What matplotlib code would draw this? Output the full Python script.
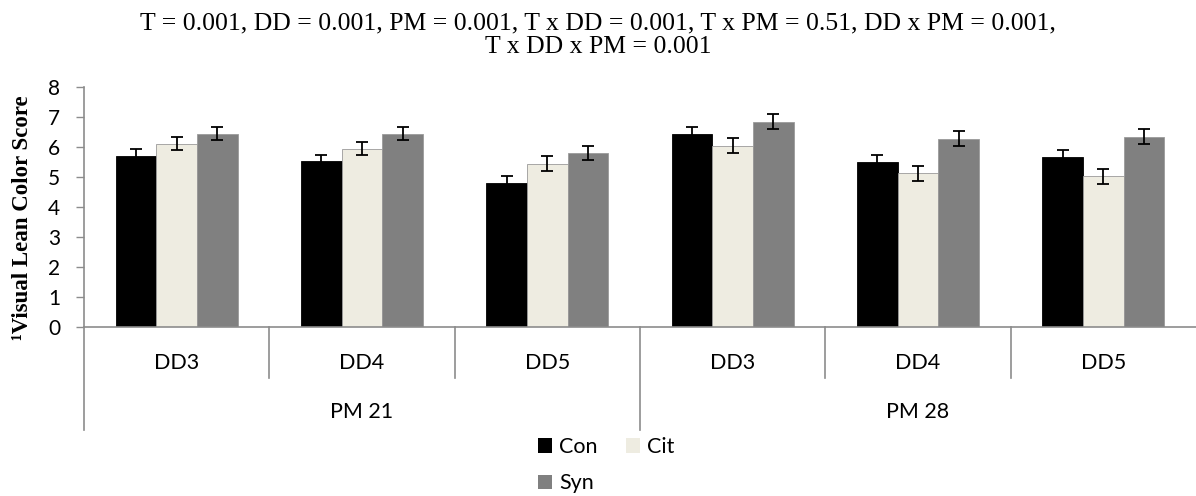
import matplotlib
matplotlib.use("Agg")
import matplotlib.pyplot as plt
import matplotlib.transforms as mtransforms
from matplotlib.patches import Patch
import numpy as np

# Data
dd_labels = ["DD3", "DD4", "DD5", "DD3", "DD4", "DD5"]
pm_labels = ["PM 21", "PM 28"]
series_names = ["Con", "Cit", "Syn"]
con_vals = [5.71, 5.53, 4.81, 6.44, 5.49, 5.67]
cit_vals = [6.11, 5.95, 5.45, 6.05, 5.12, 5.02]
syn_vals = [6.44, 6.45, 5.80, 6.85, 6.28, 6.35]
con_err = [0.21, 0.20, 0.23, 0.23, 0.23, 0.23]
cit_err = [0.22, 0.22, 0.24, 0.24, 0.24, 0.24]
syn_err = [0.22, 0.22, 0.24, 0.24, 0.24, 0.24]
y_ticks = [0, 1, 2, 3, 4, 5, 6, 7, 8]

colors = ["#000000", "#EEECE1", "#808080"]
axis_gray = "#8C8C8C"
tick_font = "Lato"
tick_size = 15.5

fig = plt.figure(figsize=(11.96, 4.96), dpi=100)
ax = fig.add_axes([84 / 1196, 1 - 327 / 496, 1 - 84 / 1196, (327 - 87) / 496])

x = np.arange(len(dd_labels))
w = 0.22
for i, (vals, errs) in enumerate(zip([con_vals, cit_vals, syn_vals],
                                     [con_err, cit_err, syn_err])):
    ax.bar(x + (i - 1) * w, vals, width=w, color=colors[i],
           edgecolor="#9a9a9a" if i else "#000000", linewidth=0.6,
           yerr=errs, capsize=4,
           error_kw=dict(ecolor="black", elinewidth=1.3, capthick=1.3),
           label=series_names[i], zorder=2)

ax.set_xlim(-0.5, len(dd_labels) - 0.5)
ax.set_ylim(0, 8)
ax.set_yticks(y_ticks)
ax.set_yticklabels([str(t) for t in y_ticks], fontsize=15, family=tick_font)
ax.tick_params(axis="y", length=6, width=1, color=axis_gray, pad=11)
ax.set_xticks([])
for s in ["top", "right"]:
    ax.spines[s].set_visible(False)
for s in ["left", "bottom"]:
    ax.spines[s].set_color(axis_gray)
    ax.spines[s].set_linewidth(1.2)

# Two-level category axis
trans = mtransforms.blended_transform_factory(ax.transData, ax.transAxes)
px = 1 / 240.0  # axes height in pixels
for i, lab in enumerate(dd_labels):
    ax.text(i, -(363 - 327) * px, lab, transform=trans, ha="center",
            va="center", fontsize=tick_size, family=tick_font)
for xs in [0.5, 1.5, 3.5, 4.5]:
    ax.plot([xs, xs], [0, -(378 - 327) * px], transform=trans,
            color=axis_gray, lw=1.2, clip_on=False)
for xs in [-0.5, 2.5]:
    ax.plot([xs, xs], [0, -(430 - 327) * px], transform=trans,
            color=axis_gray, lw=1.2, clip_on=False)
for j, lab in enumerate(pm_labels):
    ax.text(3 * j + 1, -(412 - 327) * px, lab, transform=trans,
            ha="center", va="center", fontsize=tick_size, family=tick_font)

# Y label and title
fig.text(23 / 1196, 1 - 218 / 496, "¹Visual Lean Color Score",
         rotation=90, ha="center", va="center", fontsize=16.5,
         fontweight="bold", family="Liberation Serif")
fig.text(0.5, 1 - 29 / 496,
         "T = 0.001, DD = 0.001, PM = 0.001, T x DD = 0.001, T x PM = 0.51, DD x PM = 0.001,",
         ha="center", va="baseline", fontsize=18.5, family="Liberation Serif")
fig.text(0.5, 1 - 53 / 496, "T x DD x PM = 0.001",
         ha="center", va="baseline", fontsize=18.5, family="Liberation Serif")

# Legend: Con and Cit on the first row, Syn below
handles = [Patch(facecolor=colors[0]), Patch(facecolor=colors[2]),
           Patch(facecolor=colors[1])]
labels = [series_names[0], series_names[2], series_names[1]]
fig.legend(handles, labels, ncol=2, loc="upper left",
           bbox_to_anchor=(536 / 1196, 1 - 435 / 496), frameon=False,
           prop={"family": tick_font, "size": tick_size}, handlelength=0.65,
           handleheight=0.65, handletextpad=0.33, columnspacing=1.3,
           labelspacing=0.75, borderpad=0.1, borderaxespad=0)

fig.savefig("out.png", dpi=100)
